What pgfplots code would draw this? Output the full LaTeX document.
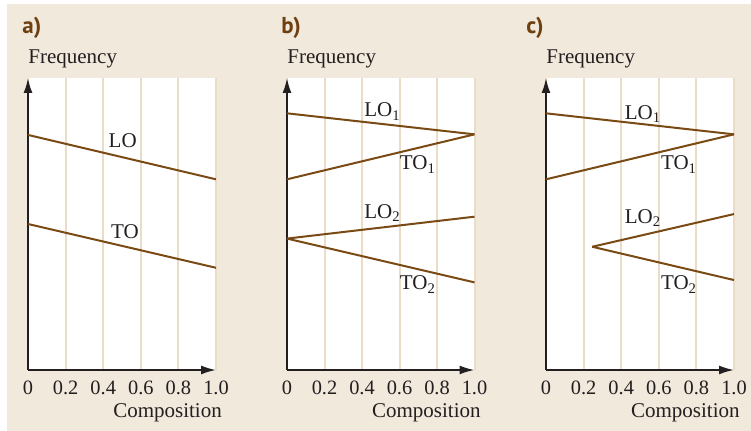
\documentclass[border=0pt]{standalone}
\usepackage{fontspec}
\setmainfont{Liberation Serif}
\newfontfamily\headfont{PT Sans}
\usepackage{pgfplots}
\pgfplotsset{compat=1.18}
\usetikzlibrary{arrows.meta}
\definecolor{bg}{HTML}{F2E9DD}
\definecolor{gridc}{HTML}{EBDCC8}
\definecolor{brn}{HTML}{7A4A14}
\definecolor{head}{HTML}{6E4010}
\definecolor{txt}{HTML}{231F20}
\tikzset{ln/.style={brn, line width=1pt},
  lab/.style={anchor=base west, inner sep=0pt, text=txt, font=\fontsize{10.5}{12}\selectfont},
  hd/.style={anchor=base west, inner sep=0pt, text=head, font=\fontsize{11.5}{13}\selectfont\headfont\bfseries}}
\pgfplotsset{panel/.style={
  height=146pt, scale only axis,
  anchor=south west,
  xmin=0, xmax=1, ymin=0, ymax=100,
  axis lines=left,
  axis line style={line width=0.9pt, color=txt, -{Latex[length=7.5pt,width=4.5pt]}},
  xtick={0,0.2,0.4,0.6,0.8,1},
  xticklabels={0,0.2,0.4,0.6,0.8,1.0},
  ytick=\empty,
  major tick length=0pt,
  xmajorgrids, grid style={gridc, line width=1pt},
  axis background/.style={fill=white},
  xticklabel style={anchor=base, yshift=-12.5pt, font=\fontsize{10.2}{12}\selectfont, text=txt},
  /pgf/number format/assume math mode=true,
  clip=false,
}}
\begin{document}
\begin{tikzpicture}
\useasboundingbox (0,0) rectangle (375.5pt,215.5pt);
\fill[white] (0,0) rectangle (375.5pt,215.5pt);
\fill[bg] (3.5pt,0) rectangle (375.5pt,213.5pt);
% panel a
\begin{axis}[panel, width=94pt, at={(14pt,30.5pt)}]
\addplot[ln] coordinates {(0,80.5) (1,65.3)};
\addplot[ln] coordinates {(0,50.0) (1,35.0)};
\node[lab] at (axis cs:0.427,76.1) {LO};
\node[lab] at (axis cs:0.44,45.1) {TO};
\node[lab] at (axis cs:0,105.1) {Frequency};
\node[lab, anchor=base east] at (axis cs:1.033,-16.4) {Composition};
\node[hd] at (axis cs:-0.032,115.1) {a)};
\end{axis}
% panel b
\begin{axis}[panel, width=93.75pt, at={(143.5pt,30.5pt)}]
\addplot[ln] coordinates {(0,87.9) (1,80.7)};
\addplot[ln] coordinates {(0,65.3) (1,80.7)};
\addplot[ln] coordinates {(0,45.0) (1,52.5)};
\addplot[ln] coordinates {(0,45.0) (1,30.0)};
\node[lab] at (axis cs:0.41,86.7) {LO\textsubscript{1}};
\node[lab] at (axis cs:0.60,68.5) {TO\textsubscript{1}};
\node[lab] at (axis cs:0.41,51.9) {LO\textsubscript{2}};
\node[lab] at (axis cs:0.60,27.4) {TO\textsubscript{2}};
\node[lab] at (axis cs:0,105.1) {Frequency};
\node[lab, anchor=base east] at (axis cs:1.035,-16.4) {Composition};
\node[hd] at (axis cs:-0.032,115.1) {b)};
\end{axis}
% panel c
\begin{axis}[panel, width=94pt, at={(273pt,30.5pt)}]
\addplot[ln] coordinates {(0,87.9) (1,80.7)};
\addplot[ln] coordinates {(0,65.3) (1,80.7)};
\addplot[ln] coordinates {(0.246,42.2) (1,53.4)};
\addplot[ln] coordinates {(0.246,42.2) (1,30.8)};
\node[lab] at (axis cs:0.417,85.8) {LO\textsubscript{1}};
\node[lab] at (axis cs:0.61,68.5) {TO\textsubscript{1}};
\node[lab] at (axis cs:0.417,50.2) {LO\textsubscript{2}};
\node[lab] at (axis cs:0.61,27.4) {TO\textsubscript{2}};
\node[lab] at (axis cs:0,105.1) {Frequency};
\node[lab, anchor=base east] at (axis cs:1.032,-16.4) {Composition};
\node[hd] at (axis cs:-0.106,115.1) {c)};
\end{axis}
\end{tikzpicture}
\end{document}
